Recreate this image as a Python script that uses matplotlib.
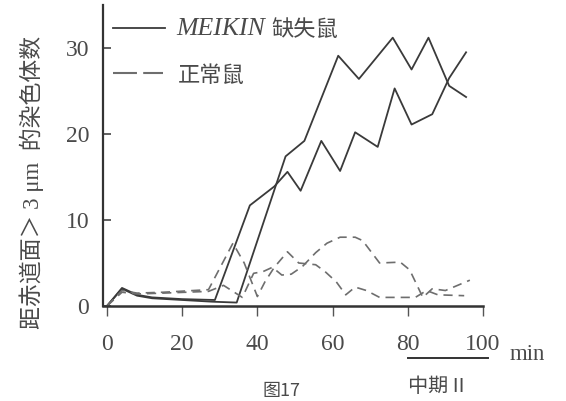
import matplotlib
matplotlib.use("Agg")
import matplotlib.pyplot as plt
from matplotlib.lines import Line2D

# ---- data ----
solid_a_x = [0, 4, 8, 12, 20, 28.7, 38, 44.5, 48, 51.5, 57, 62, 66, 72, 76.5, 81, 86.5, 91, 95.5]
solid_a_y = [0, 2.1, 1.3, 1.0, 0.8, 0.7, 11.7, 13.9, 15.6, 13.4, 19.2, 15.7, 20.2, 18.5, 25.3, 21.1, 22.3, 26.5, 29.5]

solid_b_x = [0, 4, 8, 12, 20, 28, 34.5, 47.5, 52.5, 61.5, 67, 76, 81, 85.5, 91, 95.5]
solid_b_y = [0, 2.0, 1.2, 0.9, 0.7, 0.5, 0.4, 17.4, 19.2, 29.1, 26.4, 31.2, 27.5, 31.2, 25.6, 24.3]

dash_a_x = [0, 4, 8, 15, 27, 33.5, 36.5, 40, 42, 44.5, 48, 51, 55.5, 58, 61, 63.5, 66, 69, 72.5, 82, 85, 88, 95]
dash_a_y = [0, 1.8, 1.5, 1.6, 1.9, 7.3, 5.0, 1.1, 2.8, 4.5, 6.3, 5.0, 4.8, 4.0, 2.8, 1.3, 2.2, 1.8, 1.0, 1.0, 1.8, 1.3, 1.2]

dash_b_x = [0, 4, 8, 15, 27, 31, 36, 39, 41.5, 44, 46.5, 49, 52, 55.5, 58.5, 62, 66, 68, 72.5, 78, 80.5, 84, 86.5, 90, 96.5]
dash_b_y = [0, 1.6, 1.4, 1.5, 1.7, 2.4, 1.0, 3.8, 4.0, 4.5, 3.6, 3.7, 4.6, 6.2, 7.3, 8.0, 8.0, 7.6, 5.0, 5.1, 4.2, 1.0, 2.0, 1.8, 3.0]

x_ticks = [0, 20, 40, 60, 80, 100]
y_ticks = [0, 10, 20, 30]

legend_labels = ["MEIKIN", "缺失鼠", "正常鼠"]
y_label = "距赤道面＞ 3 μm  的染色体数"
x_unit = "min"
phase_label = "中期 II"
caption = "图17"

W, H = 566, 401
def fx(px):
    return px / W
def fy(py):
    return 1 - py / H

fig = plt.figure(figsize=(W / 100, H / 100), dpi=100)
ax = fig.add_axes([fx(103.2), fy(306), fx(483) - fx(103.2), fy(5) - fy(306)])

line_c = "#3a3a3a"
dash_c = "#6e6e6e"
text_c = "#4a4a4a"

ax.plot(solid_a_x, solid_a_y, color=line_c, lw=1.3, clip_on=False)
ax.plot(solid_b_x, solid_b_y, color=line_c, lw=1.3, clip_on=False)
ax.plot(dash_a_x, dash_a_y, color=dash_c, lw=1.2, dashes=(5.5, 3.6), clip_on=False)
ax.plot(dash_b_x, dash_b_y, color=dash_c, lw=1.2, dashes=(5.5, 3.6), clip_on=False)

ax.set_xlim(-1, 100)
ax.set_ylim(0, 35)

for s in ["top", "right"]:
    ax.spines[s].set_visible(False)
ax.spines["left"].set_linewidth(1.6)
ax.spines["bottom"].set_linewidth(1.8)
ax.spines["left"].set_color("#333333")
ax.spines["bottom"].set_color("#333333")

serif = ["Liberation Serif", "DejaVu Serif"]
ax.set_xticks(x_ticks)
ax.set_yticks(y_ticks)
ax.set_xticklabels([str(v) for v in x_ticks], fontsize=17, family=serif, color=text_c)
ax.set_yticklabels([str(v) for v in y_ticks], fontsize=17, family=serif, color=text_c)
ax.tick_params(axis="x", direction="out", length=7, width=1.0, pad=13, colors="#555555", labelcolor=text_c)
ax.tick_params(axis="y", direction="in", length=6, width=1.2, pad=10, colors="#444444", labelcolor=text_c)

# y label placed in figure pixels
fig.text(fx(32), fy(182), y_label, family=["Liberation Serif", "Noto Sans CJK SC"], fontsize=16.5,
         color=text_c, rotation=90, va="center", ha="center")

# legend (manual)
fig.add_artist(Line2D([fx(113), fx(165)], [fy(28), fy(28)], color=line_c, lw=1.3, transform=fig.transFigure))
fig.add_artist(Line2D([fx(113), fx(163)], [fy(73), fy(73)], color=dash_c, lw=1.5,
                      dashes=(11.5, 3), transform=fig.transFigure))
fig.text(fx(176), fy(29), legend_labels[0], family=serif, style="italic", fontsize=18.5,
         color=text_c, va="center", ha="left")
fig.text(fx(271), fy(29), legend_labels[1], family=["Noto Sans CJK SC"], fontsize=16,
         color=text_c, va="center", ha="left")
fig.text(fx(178), fy(75), legend_labels[2], family=["Noto Sans CJK SC"], fontsize=16,
         color=text_c, va="center", ha="left")

fig.text(fx(510), fy(355), x_unit, family=serif, fontsize=16.5, color=text_c, va="center", ha="left")
fig.add_artist(Line2D([fx(408), fx(488)], [fy(358), fy(358)], color="#333333", lw=1.4,
                      transform=fig.transFigure))
fig.text(fx(408), fy(387), phase_label, family=["Noto Sans CJK SC"], fontsize=14.5,
         color=text_c, va="center", ha="left")
fig.text(fx(262), fy(400), caption, family=["Noto Sans CJK SC", "Liberation Serif"], fontsize=13,
         color=text_c, va="bottom", ha="left")

fig.savefig("out.png", dpi=100)
